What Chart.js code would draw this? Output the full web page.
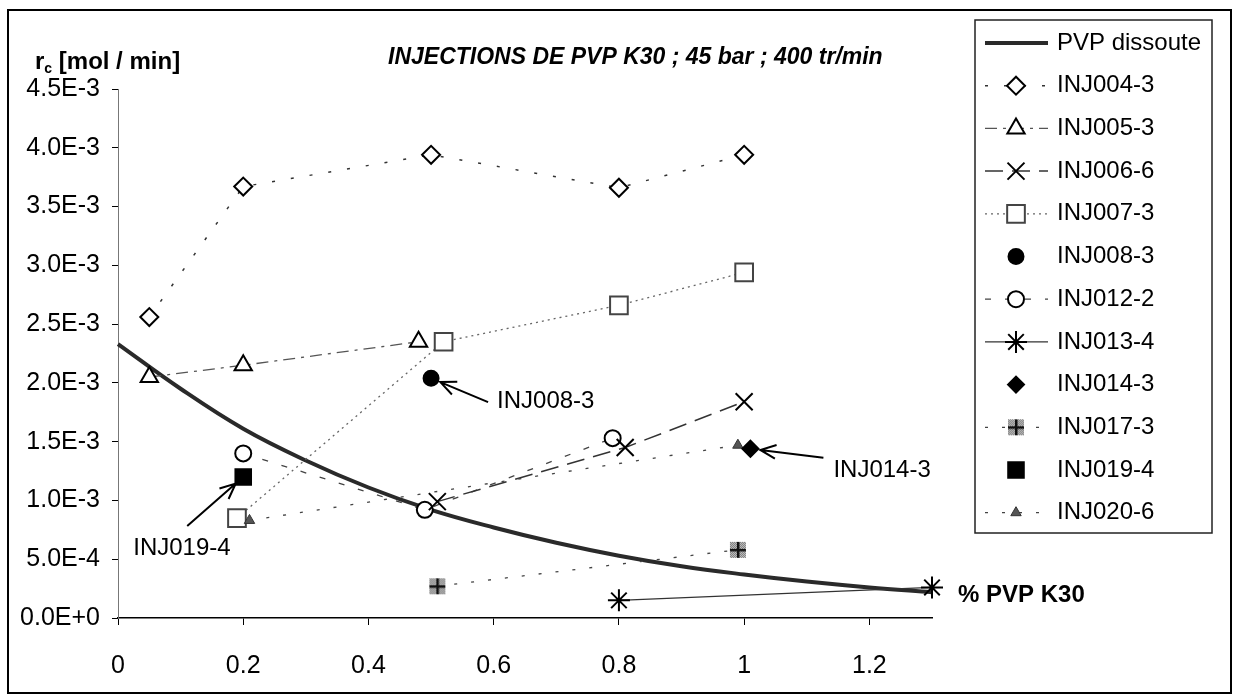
<!DOCTYPE html>
<html>
<head>
<meta charset="utf-8">
<script src="https://cdn.jsdelivr.net/npm/chart.js@4.4.1/dist/chart.umd.min.js"></script>
<style>
html, body { margin: 0; padding: 0; background: #fff; }
canvas { display: block; }
</style>
</head>
<body>
<canvas id="myChart" width="1237" height="695"></canvas>
<script>
// axis ticks
var xTicks = [0, 0.2, 0.4, 0.6, 0.8, 1, 1.2];
var xTickLabels = ['0', '0.2', '0.4', '0.6', '0.8', '1', '1.2'];
var yTicks = [0, 0.0005, 0.001, 0.0015, 0.002, 0.0025, 0.003, 0.0035, 0.004, 0.0045];
var yTickLabels = ['0.0E+0', '5.0E-4', '1.0E-3', '1.5E-3', '2.0E-3', '2.5E-3', '3.0E-3', '3.5E-3', '4.0E-3', '4.5E-3'];

// PVP dissoute (curve)
var pvpX = [0, 0.1, 0.2, 0.3, 0.4, 0.5, 0.6, 0.7, 0.8, 0.9, 1.0, 1.1, 1.2, 1.3];
var pvpY = [2.33e-3, 1.95e-3, 1.61e-3, 1.34e-3, 1.11e-3, 0.92e-3, 0.77e-3, 0.64e-3, 0.53e-3, 0.44e-3, 0.37e-3, 0.31e-3, 0.26e-3, 0.22e-3];

// injections
var inj004X = [0.05, 0.2, 0.5, 0.8, 1.0];
var inj004Y = [2.56e-3, 3.67e-3, 3.94e-3, 3.66e-3, 3.94e-3];
var inj005X = [0.05, 0.2, 0.48];
var inj005Y = [2.05e-3, 2.15e-3, 2.35e-3];
var inj006X = [0.51, 0.81, 1.0];
var inj006Y = [0.99e-3, 1.45e-3, 1.84e-3];
var inj007X = [0.19, 0.52, 0.8, 1.0];
var inj007Y = [0.85e-3, 2.35e-3, 2.66e-3, 2.94e-3];
var inj008X = [0.5];
var inj008Y = [2.04e-3];
var inj012X = [0.2, 0.49, 0.79];
var inj012Y = [1.40e-3, 0.92e-3, 1.53e-3];
var inj013X = [0.8, 1.3];
var inj013Y = [0.15e-3, 0.26e-3];
var inj014X = [1.01];
var inj014Y = [1.44e-3];
var inj017X = [0.51, 0.99];
var inj017Y = [0.27e-3, 0.58e-3];
var inj019X = [0.2];
var inj019Y = [1.20e-3];
var inj020X = [0.21, 0.99];
var inj020Y = [0.83e-3, 1.47e-3];

function pts(xs, ys) {
	return xs.map(function (x, i) { return { x: x, y: ys[i] }; });
}

var FONT = '"Liberation Sans", Arial, Helvetica, sans-serif';
Chart.defaults.font.family = FONT;
Chart.defaults.color = '#000';

// grey speckled square with a plus, for INJ017-3
var plusMark = document.createElement('canvas');
plusMark.width = 18;
plusMark.height = 18;
(function () {
	var g = plusMark.getContext('2d');
	g.fillStyle = '#c8c8c8';
	g.fillRect(1, 1, 16, 16);
	g.fillStyle = '#777';
	for (var yy = 1; yy < 17; yy++) {
		for (var xx = 1; xx < 17; xx++) {
			if ((xx + yy) % 2 === 0) g.fillRect(xx, yy, 1, 1);
		}
	}
	g.fillStyle = '#111';
	g.fillRect(8, 1, 2.5, 16);
	g.fillRect(1, 8, 16, 2.5);
})();

// labels with arrows pointing at single points
var notes = [
	{ text: 'INJ008-3', x: 0.5, y: 2.04e-3, tdx: 66, tdy: 23, fdx: 57, fdy: 24 },
	{ text: 'INJ014-3', x: 1.01, y: 1.44e-3, tdx: 83, tdy: 22, fdx: 73, fdy: 9 },
	{ text: 'INJ019-4', x: 0.2, y: 1.20e-3, tdx: -110, tdy: 71, fdx: -56, fdy: 49 }
];

function arrow(ctx, x1, y1, x2, y2) {
	var a = Math.atan2(y2 - y1, x2 - x1);
	ctx.beginPath();
	ctx.moveTo(x1, y1);
	ctx.lineTo(x2, y2);
	ctx.moveTo(x2 - 17 * Math.cos(a - 0.42), y2 - 17 * Math.sin(a - 0.42));
	ctx.lineTo(x2, y2);
	ctx.lineTo(x2 - 17 * Math.cos(a + 0.42), y2 - 17 * Math.sin(a + 0.42));
	ctx.stroke();
}

var overlay = {
	id: 'overlay',
	afterDraw: function (chart) {
		var ctx = chart.ctx;
		var xs = chart.scales.x, ys = chart.scales.y;
		ctx.save();

		// outer frame
		ctx.setLineDash([]);
		ctx.strokeStyle = '#000';
		ctx.lineWidth = 2;
		ctx.strokeRect(8, 10, 1223, 683);

		// title
		ctx.fillStyle = '#000';
		ctx.textBaseline = 'middle';
		ctx.textAlign = 'left';
		ctx.font = 'bold italic 23px ' + FONT;
		ctx.fillText('INJECTIONS DE PVP K30 ; 45 bar ; 400 tr/min', 388, 58);

		// y axis title
		ctx.font = 'bold 24px ' + FONT;
		ctx.fillText('r', 35, 62);
		var w = ctx.measureText('r').width;
		ctx.font = 'bold 14px ' + FONT;
		ctx.fillText('c', 35 + w, 69);
		var w2 = ctx.measureText('c').width;
		ctx.font = 'bold 24px ' + FONT;
		ctx.fillText(' [mol / min]', 35 + w + w2, 62);

		// x axis title
		ctx.fillText('% PVP K30', 958, 595);

		// annotations
		ctx.font = '24px ' + FONT;
		ctx.strokeStyle = '#000';
		ctx.lineWidth = 2;
		notes.forEach(function (n) {
			var px = xs.getPixelForValue(n.x), py = ys.getPixelForValue(n.y);
			ctx.fillText(n.text, px + n.tdx, py + n.tdy);
			var fx = px + n.fdx, fy = py + n.fdy;
			var d = Math.hypot(fx - px, fy - py);
			arrow(ctx, fx, fy, px + (fx - px) / d * 10, py + (fy - py) / d * 10);
		});

		// legend
		ctx.lineWidth = 1.5;
		ctx.strokeStyle = '#222';
		ctx.strokeRect(975, 20, 237, 513);
		chart.data.datasets.forEach(function (ds, i) {
			var y = 43 + i * 42.7;
			if (ds.showLine) {
				ctx.save();
				ctx.setLineDash(ds.borderDash || []);
				ctx.lineWidth = ds.borderWidth;
				ctx.strokeStyle = ds.borderColor;
				ctx.beginPath();
				ctx.moveTo(985, y);
				ctx.lineTo(1048, y);
				ctx.stroke();
				ctx.restore();
			}
			if (ds.pointRadius > 0) {
				ctx.save();
				ctx.setLineDash([]);
				ctx.fillStyle = ds.pointBackgroundColor;
				ctx.strokeStyle = ds.pointBorderColor;
				ctx.lineWidth = ds.pointBorderWidth;
				Chart.helpers.drawPoint(ctx, {
					pointStyle: ds.pointStyle,
					radius: ds.pointRadius,
					rotation: 0,
					borderWidth: ds.pointBorderWidth
				}, 1016, y);
				ctx.restore();
			}
			ctx.fillStyle = '#000';
			ctx.font = '24px ' + FONT;
			ctx.fillText(ds.label, 1057, y);
		});

		ctx.restore();
	}
};

function series(label, xs, ys, opts) {
	var d = {
		label: label,
		data: pts(xs, ys),
		showLine: false,
		clip: false,
		borderColor: '#444',
		borderWidth: 1.3,
		borderDash: [],
		pointStyle: 'circle',
		pointRadius: 8,
		pointHoverRadius: 8,
		pointBorderColor: '#000',
		pointBackgroundColor: '#fff',
		pointBorderWidth: 2
	};
	for (var k in opts) d[k] = opts[k];
	d.pointHoverRadius = d.pointRadius;
	return d;
}

var ctx = document.getElementById('myChart').getContext('2d');

var myChart = new Chart(ctx, {
	type: 'scatter',
	data: {
		datasets: [
			series('PVP dissoute', pvpX, pvpY, { showLine: true, borderColor: '#2a2a2a', borderWidth: 4, pointRadius: 0, tension: 0.4, order: 20 }),
			series('INJ004-3', inj004X, inj004Y, { showLine: true, borderDash: [3, 16], borderColor: '#333', borderWidth: 1.5, pointStyle: 'rectRot', pointRadius: 9 }),
			series('INJ005-3', inj005X, inj005Y, { showLine: true, borderDash: [12, 6, 3, 6], borderColor: '#555', pointStyle: 'triangle', pointRadius: 10 }),
			series('INJ006-6', inj006X, inj006Y, { showLine: true, borderDash: [18, 9], borderColor: '#333', borderWidth: 1.5, pointStyle: 'crossRot', pointRadius: 12 }),
			series('INJ007-3', inj007X, inj007Y, { showLine: true, borderDash: [2, 4], borderColor: '#666', pointStyle: 'rect', pointRadius: 12.5, pointBorderColor: '#444' }),
			series('INJ008-3', inj008X, inj008Y, { pointStyle: 'circle', pointRadius: 7.5, pointBackgroundColor: '#000' }),
			series('INJ012-2', inj012X, inj012Y, { showLine: true, borderDash: [6, 14], borderColor: '#444', pointStyle: 'circle', pointRadius: 8 }),
			series('INJ013-4', inj013X, inj013Y, { showLine: true, borderColor: '#333', borderWidth: 1.2, pointStyle: 'star', pointRadius: 11 }),
			series('INJ014-3', inj014X, inj014Y, { pointStyle: 'rectRot', pointRadius: 8, pointBackgroundColor: '#000', order: -2 }),
			series('INJ017-3', inj017X, inj017Y, { showLine: true, borderDash: [3, 14], borderColor: '#444', pointStyle: plusMark, pointRadius: 9 }),
			series('INJ019-4', inj019X, inj019Y, { pointStyle: 'rect', pointRadius: 11, pointBackgroundColor: '#000' }),
			series('INJ020-6', inj020X, inj020Y, { showLine: true, borderDash: [3, 14], borderColor: '#444', pointStyle: 'triangle', pointRadius: 6, pointBackgroundColor: '#555', pointBorderColor: '#333', pointBorderWidth: 1, order: -1 })
		]
	},
	options: {
		responsive: false,
		animation: false,
		events: [],
		layout: {
			padding: { left: 8, right: 305, top: 89, bottom: 17 }
		},
		plugins: {
			legend: { display: false },
			title: { display: false },
			tooltip: { enabled: false }
		},
		scales: {
			x: {
				type: 'linear',
				min: 0,
				max: 1.3,
				afterBuildTicks: function (s) { s.ticks = xTicks.map(function (v) { return { value: v }; }); },
				afterFit: function (s) { s.height = 60; },
				ticks: {
					callback: function (v, i) { return xTickLabels[i]; },
					font: { size: 25 },
					color: '#000',
					padding: 26,
					maxRotation: 0,
					autoSkip: false
				},
				grid: { display: true, drawOnChartArea: false, drawTicks: true, tickLength: 7, color: '#000', lineWidth: 1 },
				border: { display: true, color: '#000', width: 1.5 }
			},
			y: {
				type: 'linear',
				min: 0,
				max: 0.0045,
				afterBuildTicks: function (s) { s.ticks = yTicks.map(function (v) { return { value: v }; }); },
				afterFit: function (s) { s.width = 110; },
				ticks: {
					callback: function (v, i) { return yTickLabels[i]; },
					font: { size: 25 },
					color: '#000',
					padding: 12,
					autoSkip: false
				},
				grid: { display: true, drawOnChartArea: false, drawTicks: true, tickLength: 6, color: '#000', lineWidth: 1 },
				border: { display: true, color: '#777', width: 1, dash: [4, 3] }
			}
		}
	},
	plugins: [overlay]
});
</script>
</body>
</html>
